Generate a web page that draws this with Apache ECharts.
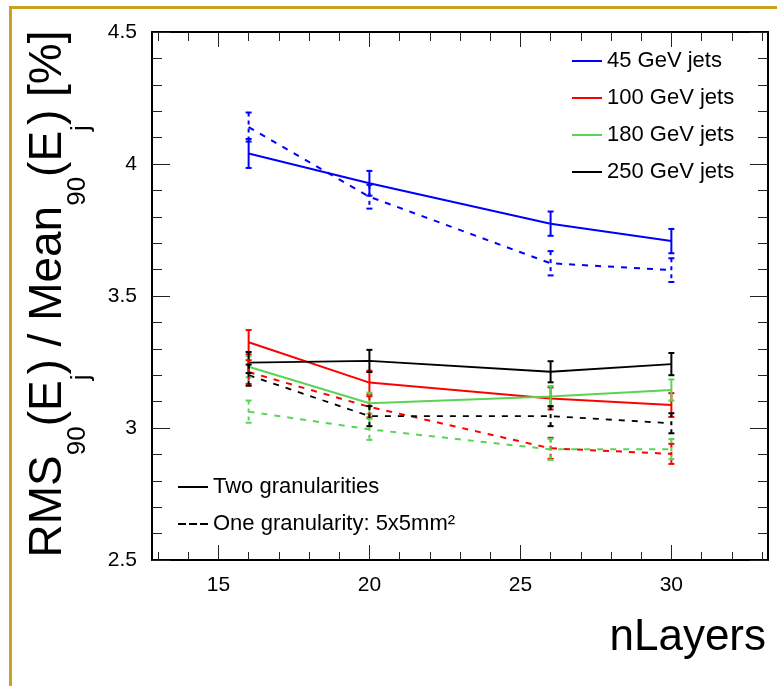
<!DOCTYPE html>
<html>
<head>
<meta charset="utf-8">
<script src="https://cdn.jsdelivr.net/npm/echarts@6/dist/echarts.min.js"></script>
<style>
  html, body { margin: 0; padding: 0; background: #fff; }
  #chart { width: 777px; height: 686px; }
</style>
</head>
<body>
<div id="chart"></div>
<script>
// x positions (number of layers)
const nLayers = [16, 20, 26, 30]

// two granularities (solid)
const jets45Two = [4.04, 3.927, 3.774, 3.708]
const jets45TwoErr = [0.055, 0.047, 0.046, 0.046]
const jets100Two = [3.325, 3.172, 3.112, 3.087]
const jets100TwoErr = [0.046, 0.045, 0.042, 0.045]
const jets180Two = [3.232, 3.094, 3.119, 3.144]
const jets180TwoErr = [0.04, 0.04, 0.04, 0.04]
const jets250Two = [3.248, 3.254, 3.213, 3.242]
const jets250TwoErr = [0.04, 0.042, 0.04, 0.042]

// one granularity 5x5mm2 (dashed)
const jets45One = [4.14, 3.876, 3.624, 3.598]
const jets45OneErr = [0.055, 0.045, 0.046, 0.045]
const jets100One = [3.212, 3.08, 2.923, 2.902]
const jets100OneErr = [0.045, 0.04, 0.04, 0.038]
const jets180One = [3.062, 2.995, 2.919, 2.92]
const jets180OneErr = [0.042, 0.04, 0.04, 0.038]
const jets250One = [3.2, 3.045, 3.045, 3.018]
const jets250OneErr = [0.04, 0.038, 0.038, 0.038]

const energyNames = ['45 GeV jets', '100 GeV jets', '180 GeV jets', '250 GeV jets']
const styleNames = ['Two granularities', 'One granularity: 5x5mm²']

const xMajorTicks = [15, 20, 25, 30]
const xMinorTicks = [13, 14, 15, 16, 17, 18, 19, 20, 21, 22, 23, 24, 25, 26, 27, 28, 29, 30, 31, 32, 33]

const colors = ['#0000ff', '#ff0000', '#59d454', '#000000']
const font = 'Liberation Sans, Arial, Helvetica, sans-serif'

const curves = [
  { name: energyNames[0], vals: jets45Two, err: jets45TwoErr, color: colors[0], dashed: false },
  { name: energyNames[1], vals: jets100Two, err: jets100TwoErr, color: colors[1], dashed: false },
  { name: energyNames[2], vals: jets180Two, err: jets180TwoErr, color: colors[2], dashed: false },
  { name: energyNames[3], vals: jets250Two, err: jets250TwoErr, color: colors[3], dashed: false },
  { name: '45 GeV jets (one)', vals: jets45One, err: jets45OneErr, color: colors[0], dashed: true },
  { name: '100 GeV jets (one)', vals: jets100One, err: jets100OneErr, color: colors[1], dashed: true },
  { name: '180 GeV jets (one)', vals: jets180One, err: jets180OneErr, color: colors[2], dashed: true },
  { name: '250 GeV jets (one)', vals: jets250One, err: jets250OneErr, color: colors[3], dashed: true }
]

const dashPattern = [6, 7]

function errorBarRenderer (color, dashed) {
  return function (params, api) {
    const x = api.value(0)
    const y = api.value(1)
    const e = api.value(2)
    const top = api.coord([x, y + e])
    const bot = api.coord([x, y - e])
    const style = { stroke: color, lineWidth: 2, lineDash: dashed ? [4, 4] : null }
    return {
      type: 'group',
      children: [
        { type: 'line', shape: { x1: top[0], y1: top[1], x2: bot[0], y2: bot[1] }, style: style },
        { type: 'line', shape: { x1: top[0] - 3, y1: top[1], x2: top[0] + 3, y2: top[1] }, style: { stroke: color, lineWidth: 2 } },
        { type: 'line', shape: { x1: bot[0] - 3, y1: bot[1], x2: bot[0] + 3, y2: bot[1] }, style: { stroke: color, lineWidth: 2 } }
      ]
    }
  }
}

const seriesArr = []
curves.forEach(c => {
  seriesArr.push({
    name: c.name,
    type: 'line',
    data: nLayers.map((x, i) => [x, c.vals[i]]),
    symbol: 'none',
    color: c.color,
    lineStyle: { color: c.color, width: c.color === '#000000' ? 1.8 : 2, type: c.dashed ? dashPattern : 'solid' },
    z: 3
  })
  seriesArr.push({
    name: c.name + ' err',
    type: 'custom',
    data: nLayers.map((x, i) => [x, c.vals[i], c.err[i]]),
    renderItem: errorBarRenderer(c.color, c.dashed),
    z: 4
  })
})
// legend-only entries for the line styles
seriesArr.push({ name: styleNames[0], type: 'line', data: [], color: '#000' })
seriesArr.push({ name: styleNames[1], type: 'line', data: [], color: '#000' })

const tickStyle = { color: '#222', width: 1 }
const frameLine = { show: true, lineStyle: { color: '#000', width: 2 } }

const xBase = { type: 'value', min: 12.8, max: 33.2, splitLine: { show: false } }
const yBase = {
  type: 'value',
  min: 2.5,
  max: 4.5,
  interval: 0.5,
  splitLine: { show: false },
  axisLine: frameLine,
  axisTick: { inside: true, length: 18, lineStyle: tickStyle },
  minorTick: { show: true, splitNumber: 5, length: 10, lineStyle: tickStyle },
  minorSplitLine: { show: false }
}

const option = {
  animation: false,
  backgroundColor: '#fff',
  grid: { left: 152, right: 9, top: 32, bottom: 126, containLabel: false },
  xAxis: [
    Object.assign({}, xBase, {
      position: 'bottom',
      axisLine: frameLine,
      axisTick: { inside: true, length: 15, lineStyle: tickStyle, customValues: xMajorTicks },
      axisLabel: { customValues: xMajorTicks, color: '#000', fontSize: 21, fontFamily: font, margin: 15 }
    }),
    Object.assign({}, xBase, {
      position: 'bottom',
      axisLine: { show: false },
      axisTick: { inside: true, length: 8, lineStyle: tickStyle, customValues: xMinorTicks },
      axisLabel: { show: false }
    }),
    Object.assign({}, xBase, {
      position: 'top',
      axisLine: frameLine,
      axisTick: { inside: true, length: 15, lineStyle: tickStyle, customValues: xMajorTicks },
      axisLabel: { show: false }
    }),
    Object.assign({}, xBase, {
      position: 'top',
      axisLine: { show: false },
      axisTick: { inside: true, length: 9, lineStyle: tickStyle, customValues: xMinorTicks },
      axisLabel: { show: false }
    })
  ],
  yAxis: [
    Object.assign({}, yBase, {
      position: 'left',
      axisLabel: { color: '#000', fontSize: 21, fontFamily: font, margin: 15 }
    }),
    Object.assign({}, yBase, {
      position: 'right',
      axisLabel: { show: false }
    })
  ],
  legend: [
    {
      orient: 'vertical',
      left: 572,
      top: 49,
      padding: 0,
      itemWidth: 30,
      itemHeight: 14,
      itemGap: 13,
      icon: 'path://M0,0h30v2h-30z',
      data: energyNames,
      textStyle: { color: '#000', fontSize: 22, fontFamily: font, lineHeight: 24 },
      selectedMode: false
    },
    {
      orient: 'vertical',
      left: 178,
      top: 475,
      padding: 0,
      itemWidth: 30,
      itemHeight: 14,
      itemGap: 13,
      data: [
        { name: styleNames[0], icon: 'path://M0,0h30v2h-30z' },
        { name: styleNames[1], icon: 'path://M0,0h8v2h-8zM11,0h8v2h-8zM22,0h8v2h-8z' }
      ],
      textStyle: { color: '#000', fontSize: 22, fontFamily: font, lineHeight: 24 },
      selectedMode: false
    }
  ],
  graphic: [
    { type: 'rect', shape: { x: 9, y: 6, width: 3, height: 680 }, style: { fill: '#c9a21f' }, silent: true },
    { type: 'rect', shape: { x: 9, y: 6, width: 768, height: 3 }, style: { fill: '#c9a21f' }, silent: true },
    {
      type: 'text',
      x: 51.5,
      y: 294,
      rotation: Math.PI / 2,
      silent: true,
      style: {
        text: '{m|RMS}{s|90}{m|(E}{j|j}{m|) / Mean}{s|90}{m|(E}{j|j}{m|) [%]}',
        align: 'center',
        verticalAlign: 'middle',
        fill: '#000',
        rich: {
          m: { fontSize: 46, lineHeight: 52, fontFamily: font, verticalAlign: 'top', fill: '#000' },
          s: { fontSize: 26, lineHeight: 26, fontFamily: font, verticalAlign: 'top', padding: [39, 0, 0, 0], fill: '#000' },
          j: { fontSize: 26, lineHeight: 26, fontFamily: font, verticalAlign: 'top', padding: [43, 0, 0, 0], fill: '#000' }
        }
      }
    },
    {
      type: 'text',
      x: 766,
      y: 638,
      silent: true,
      style: { text: 'nLayers', align: 'right', verticalAlign: 'middle', fontSize: 44, fontFamily: font, fill: '#000' }
    }
  ],
  series: seriesArr
}

const chart = echarts.init(document.getElementById('chart'))
chart.setOption(option)
</script>
</body>
</html>
